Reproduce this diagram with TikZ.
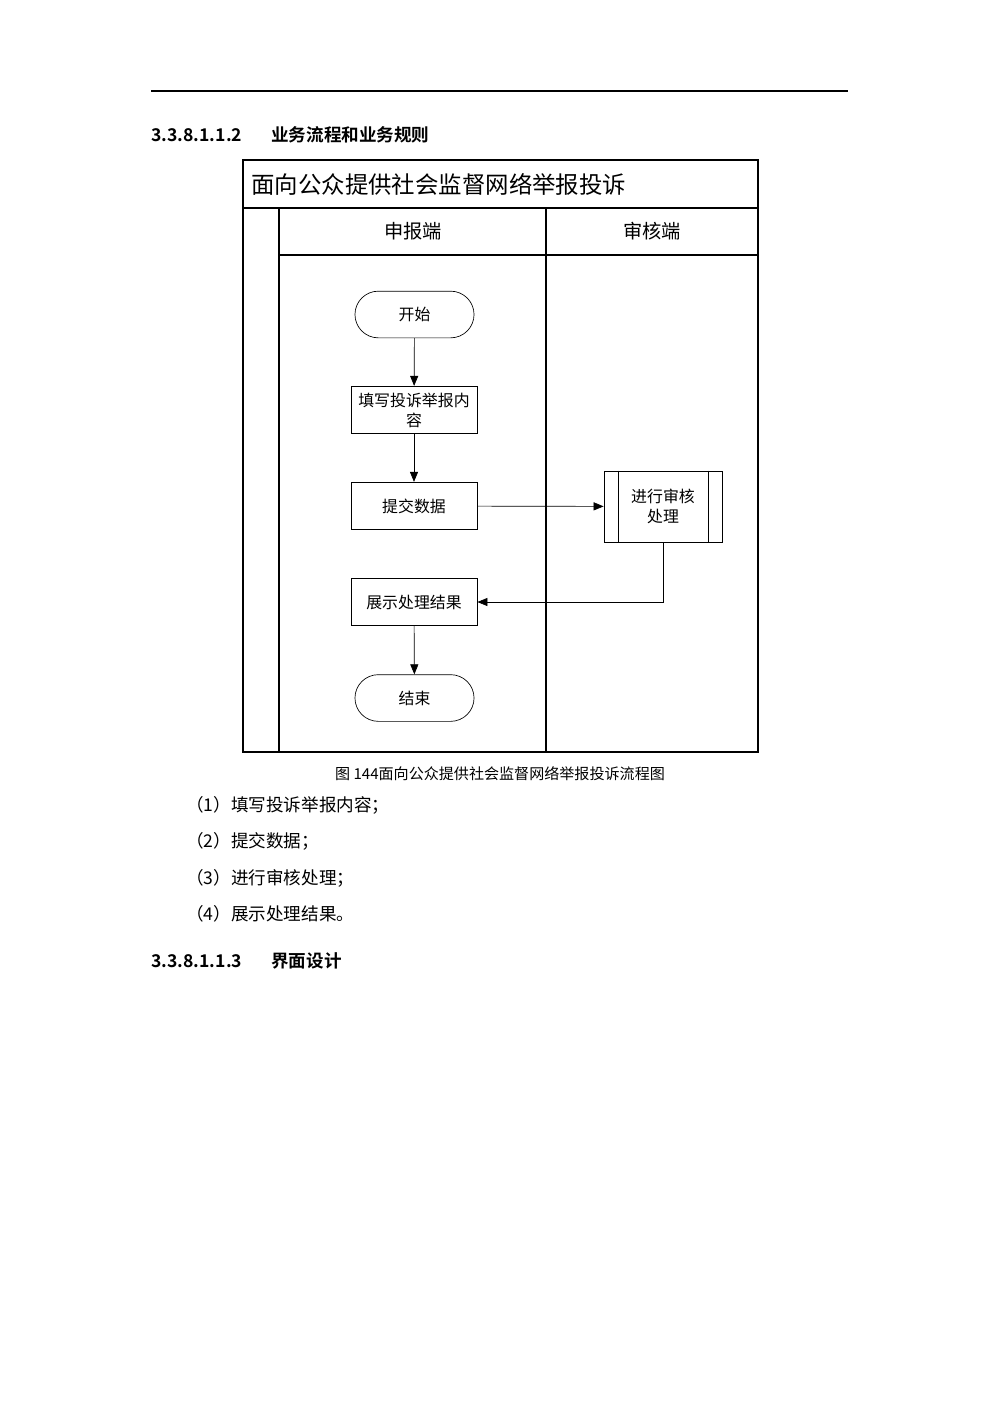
\documentclass[tikz,border=0pt]{standalone}
\usepackage{fontspec}
\setmainfont{Noto Sans CJK SC}[BoldFont={Noto Sans CJK SC Bold}]
\usetikzlibrary{arrows.meta}
\tikzset{
	procbox/.style={draw, minimum width=2.65cm, minimum height=1.0cm, align=center, inner sep=1pt, font=\fontsize{9.5}{12}\selectfont},
	termbox/.style={procbox, minimum width=2.5cm, minimum height=0.98cm, rounded corners=0.49cm},
	checkbox/.style={procbox, minimum width=2.48cm, minimum height=1.49cm},
	flow/.style={-{Triangle[length=0.21cm,width=0.17cm]}},
	lanelabel/.style={font=\fontsize{11.5}{13}\selectfont},
	pagetext/.style={anchor=west, inner sep=0pt, font=\fontsize{10.5}{12}\selectfont},
}
\begin{document}
\begin{tikzpicture}[x=0.021cm, y=-0.021cm]
			%%%%% START %%%%%
			\useasboundingbox[fill=white] (0, 0) rectangle (1000, 1415);
			
			\draw[line width=0.9pt] (151, 91) -- (848, 91);
			\node[pagetext, font=\fontsize{10.5}{12}\selectfont\bfseries] (numA) at (151, 135) {3.3.8.1.1.2};
			\node[pagetext, font=\fontsize{10.5}{12}\selectfont\bfseries] (headA) at (271, 135) {业务流程和业务规则};
			
			% pool and lanes
			\draw[line width=0.7pt] (243, 160) rectangle (758, 752);
			\draw[line width=0.7pt] (243, 208) -- (758, 208);
			\draw[line width=0.7pt] (279, 208) -- (279, 752);
			\draw[line width=0.7pt] (279, 255) -- (758, 255);
			\draw[line width=0.7pt] (546, 208) -- (546, 752);
			\node[anchor=west, inner sep=0pt, font=\fontsize{14}{16}\selectfont] (pool) at (251, 184) {面向公众提供社会监督网络举报投诉};
			\node[lanelabel] (laneA) at (413, 231) {申报端};
			\node[lanelabel] (laneB) at (652, 231) {审核端};
			
			% steps
			\node[termbox] (start) at (414.5, 314.5) {开始};
			\node[procbox] (fill) at (414, 410) {填写投诉举报内\\容};
			\node[procbox] (submit) at (414, 506) {提交数据};
			\node[checkbox] (check) at (663, 506.5) {进行审核\\处理};
			\draw ([xshift=0.3cm]check.north west) -- ([xshift=0.3cm]check.south west);
			\draw ([xshift=-0.3cm]check.north east) -- ([xshift=-0.3cm]check.south east);
			\node[procbox] (show) at (414, 602) {展示处理结果};
			\node[termbox] (end) at (414.5, 698) {结束};
			
			\draw[flow] (start) -- (fill);
			\draw[flow] (fill) -- (submit);
			\draw[flow] (submit) -- (check);
			\draw[flow] (check.south) |- (show.east);
			\draw[flow] (show) -- (end);
			
			% caption and list
			\node[inner sep=0pt, font=\fontsize{9}{11}\selectfont] (cap) at (500, 774) {图 144面向公众提供社会监督网络举报投诉流程图};
			\node[pagetext] (itemA) at (186, 805) {（1）填写投诉举报内容；};
			\node[pagetext] (itemB) at (186, 841) {（2）提交数据；};
			\node[pagetext] (itemC) at (186, 878) {（3）进行审核处理；};
			\node[pagetext] (itemD) at (186, 914) {（4）展示处理结果。};
			
			\node[pagetext, font=\fontsize{10.5}{12}\selectfont\bfseries] (numB) at (151, 961) {3.3.8.1.1.3};
			\node[pagetext, font=\fontsize{10.5}{12}\selectfont\bfseries] (headB) at (271, 961) {界面设计};
			%%%%% END %%%%%
\end{tikzpicture}
\end{document}
